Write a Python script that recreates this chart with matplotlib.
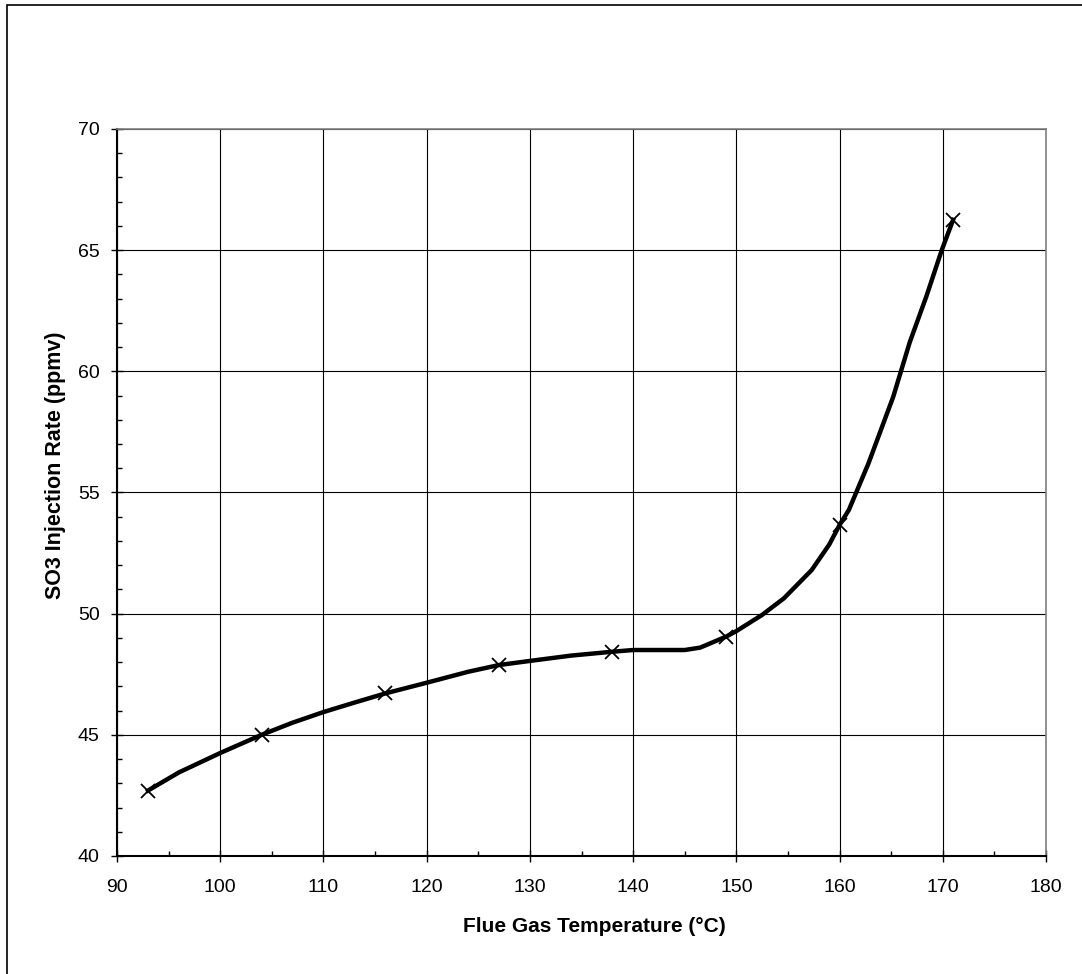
import matplotlib.pyplot as plt
from matplotlib.patches import Rectangle
from matplotlib.ticker import MultipleLocator

# measured points (markers)
temp_pts = [93, 104, 116, 127, 138, 149, 160, 171]
so3_pts = [42.7, 45.0, 46.71, 47.88, 48.43, 49.05, 53.66, 66.25]

# curve drawn through them
curve_x = [93, 96, 100, 104, 107, 110, 113, 116, 120, 124, 127, 130, 134, 138,
           140, 145, 146.5, 149, 150, 152.5, 154.6, 157.3, 159, 160, 160.9,
           162.8, 165.2, 166.8, 168.4, 169.9, 171]
curve_y = [42.7, 43.45, 44.25, 45.0, 45.5, 45.94, 46.33, 46.71, 47.15, 47.6,
           47.88, 48.05, 48.27, 48.43, 48.5, 48.5, 48.6, 49.05, 49.28, 49.95,
           50.63, 51.8, 52.85, 53.66, 54.28, 56.2, 58.95, 61.2, 63.08, 65.0,
           66.25]

plt.rcParams['font.family'] = ['Liberation Sans', 'DejaVu Sans']

fig = plt.figure(figsize=(10.82, 9.74), dpi=100)
ax = fig.add_axes([117 / 1082, 118 / 974, 929 / 1082, 727 / 974])

# chart border
fig.patches.append(Rectangle((7 / 1082, -0.01), 1.1, 1 - 5 / 974 + 0.01,
                             transform=fig.transFigure, fill=False,
                             edgecolor='black', linewidth=1.2))

ax.plot(curve_x, curve_y, color='black', linewidth=3.2, zorder=3)
ax.plot(temp_pts, so3_pts, linestyle='none', marker='x', color='black',
        markersize=10, markeredgewidth=1.3, zorder=4)

ax.set_xlim(90, 180)
ax.set_ylim(40, 70)
ax.xaxis.set_major_locator(MultipleLocator(10))
ax.xaxis.set_minor_locator(MultipleLocator(5))
ax.yaxis.set_major_locator(MultipleLocator(5))
ax.yaxis.set_minor_locator(MultipleLocator(1))

ax.grid(True, which='major', color='black', linewidth=0.8)
ax.set_axisbelow(True)

ax.tick_params(which='major', direction='inout', length=9, width=1,
               labelsize=14)
ax.tick_params(axis='x', which='major', pad=12)
ax.tick_params(axis='y', which='major', pad=8)
ax.tick_params(which='minor', direction='in', length=3.5, width=1)

for side in ['top', 'right']:
    ax.spines[side].set_color('#808080')
    ax.spines[side].set_linewidth(1.2)
for side in ['left', 'bottom']:
    ax.spines[side].set_color('black')
    ax.spines[side].set_linewidth(1.5)

ax.set_xlabel('Flue Gas Temperature (°C)', fontsize=15, fontweight='bold',
              va='center')
ax.set_ylabel('SO3 Injection Rate (ppmv)', fontsize=15.5, fontweight='bold',
              va='center')
ax.xaxis.set_label_coords(0.5135, -0.0963)
ax.yaxis.set_label_coords(-0.0667, 0.538)

fig.savefig('out.png', dpi=100)
